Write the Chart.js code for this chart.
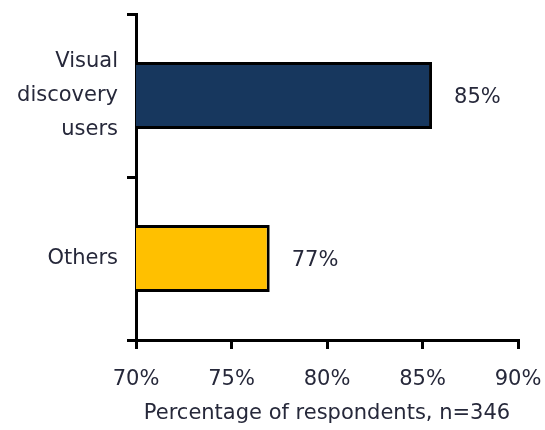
<!DOCTYPE html>
<html>
<head>
<meta charset="utf-8">
<script src="https://cdn.jsdelivr.net/npm/chart.js"></script>
<style>
  body { margin: 0; background: #fff; }
  #wrap { width: 545px; height: 430px; }
</style>
</head>
<body>
<div id="wrap"><canvas id="myChart" width="545" height="430"></canvas></div>
<script>
let categories = [['Visual', 'discovery', 'users'], 'Others'];
let values = [85.5, 77];
let valueLabels = ['85%', '77%'];
let barColors = ['#17375e', '#ffc000'];
let xTicks = [70, 75, 80, 85, 90];

const textColor = '#26283a';
const fontFamily = '"DejaVu Sans", sans-serif';

Chart.defaults.font.family = fontFamily;
Chart.defaults.font.size = 21;
Chart.defaults.color = textColor;

// draws the value text just right of each bar
const barLabels = {
    id: 'barLabels',
    afterDatasetsDraw(chart) {
        let ctx = chart.ctx;
        let meta = chart.getDatasetMeta(0);
        ctx.save();
        ctx.font = '21px ' + fontFamily;
        ctx.fillStyle = textColor;
        ctx.textBaseline = 'middle';
        ctx.textAlign = 'left';
        meta.data.forEach((bar, i) => {
            ctx.fillText(valueLabels[i], bar.x + 22, bar.y + 2);
        });
        ctx.restore();
    }
};

let ctx = document.getElementById('myChart').getContext('2d');

new Chart(ctx, {
    type: 'bar',
    data: {
        labels: categories,
        datasets: [{
            data: values,
            backgroundColor: barColors,
            borderColor: '#000',
            borderWidth: 3,
            borderSkipped: false,
            barPercentage: 0.41,
            categoryPercentage: 1
        }]
    },
    options: {
        indexAxis: 'y',
        responsive: false,
        animation: false,
        layout: { padding: { top: 14, right: 27, bottom: 0, left: 0 } },
        plugins: {
            legend: { display: false },
            tooltip: { enabled: false }
        },
        scales: {
            x: {
                min: 70,
                max: 90,
                afterBuildTicks: (axis) => { axis.ticks = xTicks.map(v => ({ value: v })); },
                afterFit: (axis) => {
                    axis.height = 90;
                    axis.paddingLeft = 0;
                    axis.paddingRight = 0;
                },
                ticks: {
                    callback: (v) => v + '%',
                    padding: 18,
                    maxRotation: 0
                },
                grid: {
                    drawOnChartArea: false,
                    color: '#000',
                    lineWidth: 3,
                    tickLength: 9
                },
                border: { color: '#000', width: 3 },
                title: {
                    display: true,
                    text: 'Percentage of respondents, n=346',
                    padding: { top: 6, bottom: 4 }
                }
            },
            y: {
                afterFit: (axis) => {
                    axis.width = 136;
                    axis.paddingTop = 0;
                    axis.paddingBottom = 0;
                },
                ticks: {
                    padding: 9,
                    font: { lineHeight: 1.6 }
                },
                grid: {
                    offset: true,
                    drawOnChartArea: false,
                    color: '#000',
                    lineWidth: 3,
                    tickLength: 9
                },
                border: { color: '#000', width: 3 }
            }
        }
    },
    plugins: [barLabels]
});
</script>
</body>
</html>
